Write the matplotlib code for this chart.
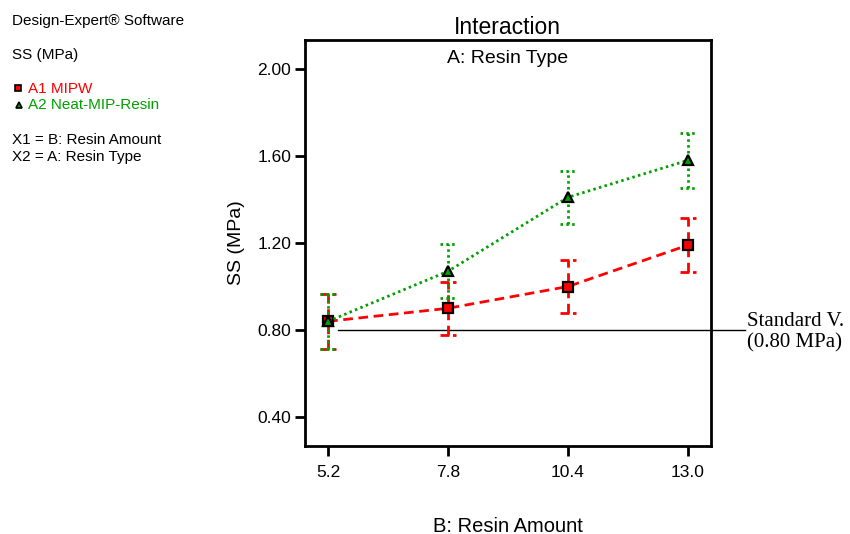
import matplotlib
matplotlib.use('Agg')
from matplotlib import pyplot as plt
from matplotlib.lines import Line2D

plt.rcParams['font.family'] = ['Liberation Sans', 'DejaVu Sans']

# resin amount levels (factor B)
resin_amount = [5.2, 7.8, 10.4, 13.0]
# SS (MPa) predictions for each resin type (factor A)
ss_mipw = [0.84, 0.90, 1.00, 1.19]
ss_neat = [0.84, 1.07, 1.41, 1.58]
# half-width of the LSD bars
lsd_mipw = [0.125, 0.122, 0.122, 0.125]
lsd_neat = [0.125, 0.125, 0.122, 0.125]
standard_value = 0.80
y_ticks = [0.40, 0.80, 1.20, 1.60, 2.00]

RED = '#ff0000'
GREEN = '#00a000'


def draw_series(ax, x, y, err, color, ls, cap_ls, marker, z):
    cap = 0.17
    lo = [v - e for v, e in zip(y, err)]
    hi = [v + e for v, e in zip(y, err)]
    ax.vlines(x, lo, hi, colors=color, linestyles=ls, lw=2, zorder=z)
    for ends in (lo, hi):
        ax.hlines(ends, [v - cap for v in x], [v + cap for v in x],
                  colors=color, linestyles=cap_ls, lw=2, zorder=z)
    ax.plot(x, y, color=color, ls=ls, lw=2, zorder=z + 0.5)
    ax.plot(x, y, ls='none', marker=marker, ms=6.5, mfc=color, mec='black',
            mew=1.6, zorder=z + 1)


def graphing():
    fig = plt.figure(figsize=(8.5, 5.34), dpi=100)
    ax = fig.add_axes([0.3588, 0.1648, 0.4776, 0.7603])

    draw_series(ax, resin_amount, ss_mipw, lsd_mipw, RED, (0, (3.5, 2)),
                (0, (3.2, 1.3)), 's', 3)
    draw_series(ax, resin_amount, ss_neat, lsd_neat, GREEN, (0, (0.9, 1.2)),
                (0, (0.9, 1.2)), '^', 5)

    # standard value reference line, runs out past the right spine
    ax.plot([5.42, 14.24], [standard_value, standard_value], color='black',
            lw=1, clip_on=False, zorder=2)
    ax.text(14.29, standard_value - 0.01, 'Standard V.\n(0.80 MPa)',
            family='Liberation Serif', fontsize=15, ha='left', va='center',
            linespacing=1.2)

    ax.set_xlim(4.70, 13.50)
    ax.set_ylim(0.267, 2.133)
    ax.set_xticks(resin_amount)
    ax.set_xticklabels(['%.1f' % v for v in resin_amount])
    ax.set_yticks(y_ticks)
    ax.set_yticklabels(['%.2f' % v for v in y_ticks])
    ax.tick_params(axis='both', length=7, width=2, labelsize=12.5, direction='out')
    ax.tick_params(axis='x', pad=7)
    ax.tick_params(axis='y', pad=3)
    for s in ax.spines.values():
        s.set_linewidth(2)

    ax.set_xlabel('B: Resin Amount', fontsize=14.5, labelpad=26)
    ax.set_ylabel('SS (MPa)', fontsize=14, labelpad=9)
    fig.text(0.597, 0.949, 'Interaction', fontsize=16.5, ha='center', va='center')
    ax.text(0.5, 0.975, 'A: Resin Type', transform=ax.transAxes, fontsize=14,
            ha='center', va='top')

    # side panel
    fs = 11
    fig.text(12 / 850, 1 - 21 / 534, 'Design-Expert® Software', fontsize=fs, va='center')
    fig.text(12 / 850, 1 - 55 / 534, 'SS (MPa)', fontsize=fs, va='center')
    fig.text(28 / 850, 1 - 89 / 534, 'A1 MIPW', fontsize=fs, va='center', color=RED)
    fig.text(28 / 850, 1 - 105 / 534, 'A2 Neat-MIP-Resin', fontsize=fs, va='center',
             color=GREEN)
    fig.add_artist(Line2D([18 / 850], [1 - 88 / 534], marker='s', ms=4, mfc=RED,
                          mec='black', mew=1.2, transform=fig.transFigure))
    fig.add_artist(Line2D([19 / 850], [1 - 105 / 534], marker='^', ms=5, mfc=GREEN,
                          mec='black', mew=1.2, transform=fig.transFigure))
    fig.text(12 / 850, 1 - 140 / 534, 'X1 = B: Resin Amount', fontsize=fs, va='center')
    fig.text(12 / 850, 1 - 157 / 534, 'X2 = A: Resin Type', fontsize=fs, va='center')

    fig.savefig('out.png', dpi=100)


if __name__ == "__main__":
    graphing()
